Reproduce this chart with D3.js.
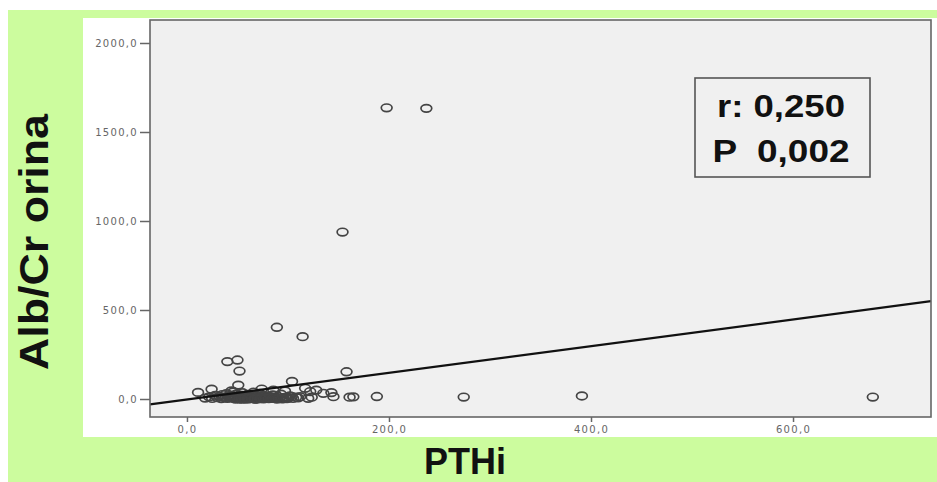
<!DOCTYPE html>
<html>
<head>
<meta charset="utf-8">
<script src="https://cdn.jsdelivr.net/npm/d3@7"></script>
<style>
  body { margin: 0; background: #fff; }
  svg { display: block; }
</style>
</head>
<body>
<div id="corpo"></div>
<script>
// PTHi (x) / Alb/Cr orina (y)
var pthi = [197.7, 237, 154, 89, 114.5, 40, 50, 52, 158, 104, 50.8, 24.4, 11, 188, 161, 143, 145, 122, 123.5, 117,
  135, 274, 391, 679, 74, 85.5, 97, 128, 164.7, 103.6, 112, 120,
  18, 22, 25, 28, 30, 32, 34, 35, 36, 38, 39, 40, 41, 42, 43, 44, 45, 46, 47, 48,
  49, 50, 51, 52, 53, 54, 55, 56, 57, 58, 59, 60, 61, 62, 63, 64, 65, 66, 67, 68,
  69, 70, 71, 72, 73, 74, 75, 76, 77, 78, 80, 81, 82, 84, 85, 86, 88, 90, 92, 93,
  95, 98, 100, 102, 105, 108, 110, 46, 55, 62, 70, 79, 87, 96, 44, 58, 66, 83,
  52, 57, 61, 64, 68, 72, 76, 81, 85, 89, 91, 94, 99, 42, 48, 54, 60, 67, 73, 78];
var albcr = [1636, 1633, 938, 403, 350, 210, 219, 157, 153, 99, 78, 55, 37, 14, 10, 36, 13, 42, 10, 60,
  32, 11, 17, 11, 56, 50, 45, 50, 12, 13, 13, 4,
  5, 12, 3, 20, 8, 15, 2, 25, 10, 6, 30, 4, 18, 9, 14, 22, 7, 11, 3, 16,
  28, 5, 13, 9, 21, 6, 35, 12, 4, 17, 8, 26, 10, 3, 19, 7, 14, 24, 5, 11,
  2, 16, 9, 31, 6, 13, 20, 4, 10, 18, 7, 15, 3, 12, 23, 6, 9, 14, 4, 27,
  8, 11, 5, 17, 3, 10, 6, 40, 1, 2, 1, 5, 3, 2, 45, 0, 38, 7,
  0, 2, 1, 4, 0, 3, 1, 2, 5, 0, 3, 1, 2, 6, 0, 1, 3, 0, 2, 4];

var yTicks = [0, 500, 1000, 1500, 2000];
var xTicks = [0, 200, 400, 600];

// recta de regresión
var intercept = -3;
var slope = 0.75;

var stats = ["r: 0,250", "P  0,002"];

var width = 937, height = 482;

var svg = d3.select("#corpo").append("svg")
    .attr("width", width)
    .attr("height", height);

// fondos
svg.append("rect").attr("x", 0).attr("y", 0).attr("width", width).attr("height", height).style("fill", "#fff");
svg.append("rect").attr("x", 8).attr("y", 10).attr("width", width - 8).attr("height", height - 10).style("fill", "#ccfc9e");
svg.append("rect").attr("x", 83).attr("y", 18).attr("width", width - 83).attr("height", 419).style("fill", "#fff");

var plotLeft = 150, plotRight = 931, plotTop = 20, plotBottom = 417;

var x = d3.scaleLinear().domain([-36.6, 736.6]).range([plotLeft, plotRight]);
var y = d3.scaleLinear().domain([-101.1, 2129.2]).range([plotBottom, plotTop]);

svg.append("rect")
    .attr("x", plotLeft).attr("y", plotTop)
    .attr("width", plotRight - plotLeft).attr("height", plotBottom - plotTop)
    .style("fill", "#f0f0f0");

var fmt = function(d) { return d3.format(".1f")(d).replace(".", ","); };

var yAxis = svg.append("g")
    .attr("transform", "translate(" + plotLeft + ",0)")
    .call(d3.axisLeft(y).tickValues(yTicks).tickSize(10).tickPadding(2).tickFormat(fmt));

var xAxis = svg.append("g")
    .attr("transform", "translate(0," + plotBottom + ")")
    .call(d3.axisBottom(x).tickValues(xTicks).tickSize(5).tickPadding(4).tickFormat(fmt));

[yAxis, xAxis].forEach(function(g) {
    g.select(".domain").remove();
    g.selectAll("line").style("stroke", "#666").style("stroke-width", 1.5);
    g.selectAll("text")
        .style("font-family", "DejaVu Sans")
        .style("font-size", "10px")
        .style("letter-spacing", "1.3px")
        .style("fill", "#666");
});

// puntos
var dados = pthi.map(function(d, i) { return {x: d, y: albcr[i]}; });

svg.append("g").selectAll("ellipse")
    .data(dados)
    .enter().append("ellipse")
    .attr("cx", function(d) { return x(d.x); })
    .attr("cy", function(d) { return y(d.y); })
    .attr("rx", 5.4)
    .attr("ry", 3.8)
    .style("fill", "none")
    .style("stroke", "#444")
    .style("stroke-width", 1.7);

// línea de regresión
var xd = x.domain();
svg.append("path")
    .datum(xd)
    .attr("d", d3.line()
        .x(function(d) { return x(d); })
        .y(function(d) { return y(intercept + slope * d); }))
    .style("fill", "none")
    .style("stroke", "#111")
    .style("stroke-width", 2.2);

// marco
svg.append("rect")
    .attr("x", plotLeft).attr("y", plotTop)
    .attr("width", plotRight - plotLeft).attr("height", plotBottom - plotTop)
    .style("fill", "none")
    .style("stroke", "#666")
    .style("stroke-width", 1.6);

// cuadro r / P
svg.append("rect")
    .attr("x", 695).attr("y", 78).attr("width", 175).attr("height", 99)
    .style("fill", "none")
    .style("stroke", "#555")
    .style("stroke-width", 1.6);

svg.selectAll(".stat")
    .data(stats)
    .enter().append("text")
    .attr("class", "stat")
    .attr("x", 781)
    .attr("y", function(d, i) { return 117 + i * 45; })
    .attr("text-anchor", "middle")
    .attr("textLength", function(d, i) { return i == 0 ? 128 : 137; })
    .attr("lengthAdjust", "spacingAndGlyphs")
    .style("font-family", "Liberation Sans")
    .style("font-weight", "bold")
    .style("font-size", "32px")
    .style("fill", "#111")
    .style("white-space", "pre")
    .text(function(d) { return d; });

// títulos
svg.append("text")
    .attr("transform", "translate(48,242) rotate(-90)")
    .attr("text-anchor", "middle")
    .attr("textLength", 256)
    .attr("lengthAdjust", "spacingAndGlyphs")
    .style("font-family", "Liberation Sans")
    .style("font-weight", "bold")
    .style("font-size", "40px")
    .style("fill", "#111")
    .text("Alb/Cr orina");

svg.append("text")
    .attr("x", 465)
    .attr("y", 474)
    .attr("text-anchor", "middle")
    .attr("textLength", 82)
    .attr("lengthAdjust", "spacingAndGlyphs")
    .style("font-family", "Liberation Sans")
    .style("font-weight", "bold")
    .style("font-size", "36px")
    .style("fill", "#111")
    .text("PTHi");
</script>
</body>
</html>
